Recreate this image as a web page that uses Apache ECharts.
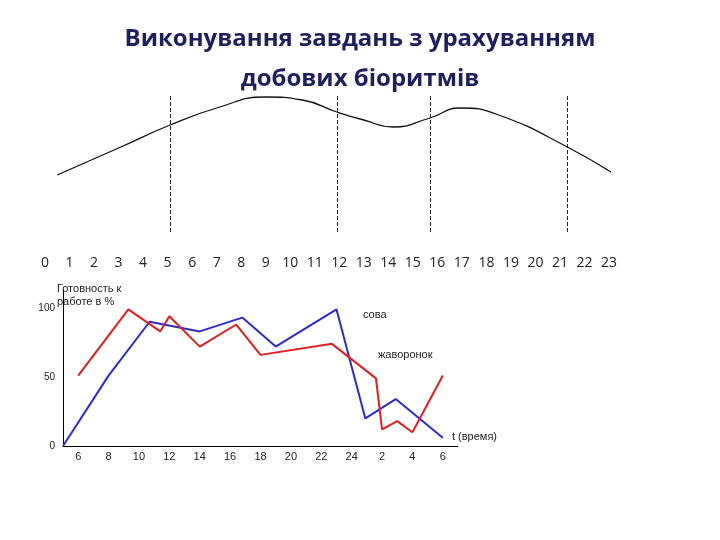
<!DOCTYPE html>
<html lang="uk">
<head>
<meta charset="UTF-8">
<title>Біоритми</title>
<script src="https://cdn.jsdelivr.net/npm/echarts@6/dist/echarts.min.js"></script>
<style>
  html, body { margin: 0; padding: 0; background: #fff; }
  #main { width: 720px; height: 540px; }
</style>
</head>
<body>
<div id="main"></div>
<script>
  // top curve (hour, level)
  var curveData = [[0.5,25],[3,52],[5.1,75],[7,92],[9,103],[10.5,100],[11.9,88],[13,80],[14.2,73],[15.7,82],[16.9,92],[18.5,85],[21.3,53],[23.4,23]];
  var dividers = [5.1, 11.9, 15.7, 21.3];

  // lower chart, hours counted past midnight as 24+
  var sova = [[5,0],[8,51],[10.7,90],[14,83],[16.8,93],[19,72],[23,99],[24.9,20],[26.9,34],[30,6]];
  var zhavoronok = [[6,51],[9.3,99],[11.4,83],[12,94],[14,72],[16.4,88],[18,66],[22.7,74],[25.6,49],[26,12],[27,18],[28,10],[30,51]];

  var chart = echarts.init(document.getElementById('main'));
  var font = '"Open Sans", "Liberation Sans", sans-serif';

  chart.setOption({
    animation: false,
    title: {
      text: 'Виконування завдань з урахуванням\nдобових біоритмів',
      left: 'center', top: 14,
      textStyle: { color: '#1f1f5e', fontSize: 24, fontWeight: 'bold', fontFamily: font, lineHeight: 40 }
    },
    grid: [
      { left: 45, width: 564, top: 95, height: 137 },
      { left: 63, width: 395, top: 290, height: 156 }
    ],
    xAxis: [
      { gridIndex: 0, type: 'value', min: 0, max: 23, interval: 1,
        axisLine: { show: false }, axisTick: { show: false }, splitLine: { show: false },
        axisLabel: { margin: 24, fontSize: 14, color: '#222', fontFamily: font } },
      { gridIndex: 1, type: 'value', min: 5, max: 31, interval: 1,
        axisLine: { lineStyle: { color: '#000' } }, axisTick: { show: false }, splitLine: { show: false },
        axisLabel: { fontSize: 11, color: '#222', margin: 5,
          formatter: function (v) { return (v % 2 === 0 && v <= 30) ? String(v > 24 ? v - 24 : v) : ''; } } }
    ],
    yAxis: [
      { gridIndex: 0, type: 'value', min: -32, max: 105, show: false },
      { gridIndex: 1, type: 'value', min: 0, max: 113, interval: 50,
        axisLine: { show: true, lineStyle: { color: '#000' } }, axisTick: { show: false }, splitLine: { show: false },
        axisLabel: { fontSize: 10, color: '#222', margin: 8, showMaxLabel: false,
          formatter: function (v) { return v > 100 ? '' : String(v); } } }
    ],
    graphic: [
      { type: 'text', left: 57, top: 282, style: { text: 'Готовность к\nработе в %', fontSize: 11, fill: '#222', lineHeight: 13 } },
      { type: 'text', left: 363, top: 309, style: { text: 'сова', fontSize: 11, fill: '#222' } },
      { type: 'text', left: 378, top: 349, style: { text: 'жаворонок', fontSize: 11, fill: '#222' } },
      { type: 'text', left: 452, top: 431, style: { text: 't (время)', fontSize: 11, fill: '#222' } }
    ],
    series: [
      { type: 'line', xAxisIndex: 0, yAxisIndex: 0, data: curveData, smooth: 0.5, symbol: 'none',
        lineStyle: { color: '#111', width: 1.3 },
        markLine: { symbol: 'none', silent: true, label: { show: false },
          lineStyle: { color: '#222', type: 'dashed', width: 1 },
          data: dividers.map(function (d) { return { xAxis: d }; }) } },
      { type: 'line', xAxisIndex: 1, yAxisIndex: 1, data: sova, symbol: 'none',
        lineStyle: { color: '#2b2bd0', width: 2 } },
      { type: 'line', xAxisIndex: 1, yAxisIndex: 1, data: zhavoronok, symbol: 'none',
        lineStyle: { color: '#e02020', width: 2 } }
    ]
  });
</script>
</body>
</html>
